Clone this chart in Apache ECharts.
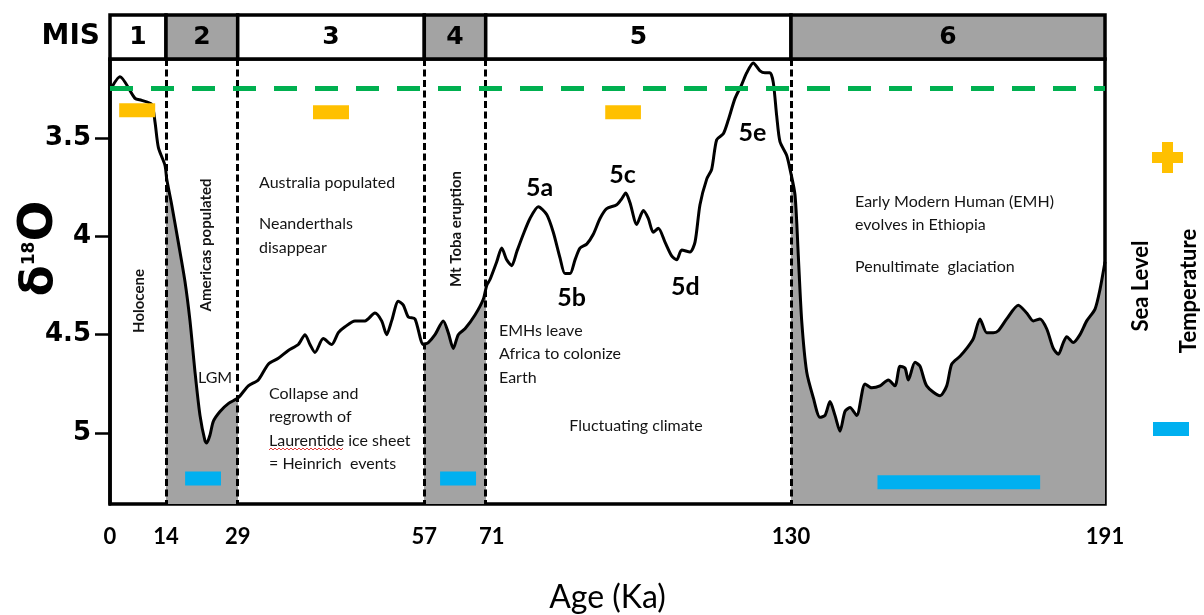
<!DOCTYPE html>
<html>
<head>
<meta charset="utf-8">
<script src="https://cdn.jsdelivr.net/npm/echarts@6/dist/echarts.min.js"></script>
<style>
  html, body { margin: 0; padding: 0; background: #fff; }
  #chart { width: 1204px; height: 615px; }
</style>
</head>
<body>
<div id="chart"></div>
<script>
// Marine isotope stage boundaries (ka) and their labels
const stageBounds = [0, 14, 29, 57, 71, 130, 191];
const stageLabels = ['1', '2', '3', '4', '5', '6'];
const glacialStage = [false, true, false, true, false, true];

// Benthic δ18O record (‰) against age (ka)
const ages = [
  0, 2.5, 6.25, 7.9, 10.4, 11.25, 12.1, 13.75,
  14.15, 15.19, 16.57, 17.97, 19.02, 20.07, 21.11, 22.16, 22.51, 23.2, 23.9, 25.3, 27.03,
  29.09, 30.59, 32.09, 33.59, 35.09, 36.59, 38.09, 39.1, 39.85, 40.6, 41.84, 43.1, 44.1, 45.1,
  46.6, 48.1, 49.6, 50.6, 51.35, 52.1, 53.1, 53.85, 54.6, 55.6, 56.85,
  57.91, 59.44, 61.33, 62.47, 63.61, 64.75, 66.28, 68.56, 70.45,
  71.19, 71.83, 73.13, 74.09, 75.06, 76.02, 76.99, 78.27, 79.56, 81.17, 82.79, 84.06, 85.36,
  86.32, 87.29, 88.26, 89.22, 90.52, 91.79, 93.09, 94.38, 96.32, 97.28, 98.06, 98.89, 100.18,
  101.46, 102.42, 103.39, 104.36, 105.65, 106.94, 107.91, 108.88, 110.48, 111.45, 112.41,
  113.71, 114.67, 115.64, 116.92, 117.88, 119.18, 120.47, 121.44, 122.71, 124.01, 124.97,
  125.94, 126.58, 127.24, 127.87, 129.17, 129.81,
  130.78, 131.42, 132.08, 133.05, 134.33, 135.63, 136.61, 137.58, 138.55, 139.52, 140.49,
  141.46, 142.76, 144.38, 145.68, 147.29, 148.9, 150.2, 151.18, 152.15, 152.79, 154.09,
  155.06, 156.36, 158.95, 160.25, 161.22, 162.83, 164.13, 165.42, 166.72, 168.02, 169.3,
  170.27, 171.9, 174.16, 175.79, 177.07, 178.37, 179.67, 180.96, 181.93, 182.9, 183.56,
  184.84, 186.14, 187.45, 189.06, 190.03, 191
];
const d18o = [
  3.26, 3.19, 3.30, 3.31, 3.33, 3.42, 3.55, 3.64,
  3.71, 3.84, 4.03, 4.23, 4.43, 4.69, 4.91, 5.04, 5.05, 5.01, 4.94, 4.89, 4.85,
  4.82, 4.76, 4.73, 4.65, 4.62, 4.58, 4.55, 4.50, 4.55, 4.59, 4.52, 4.55, 4.49, 4.46,
  4.43, 4.43, 4.39, 4.43, 4.50, 4.43, 4.33, 4.35, 4.41, 4.42, 4.55,
  4.54, 4.50, 4.43, 4.49, 4.57, 4.50, 4.47, 4.40, 4.32,
  4.25, 4.22, 4.13, 4.06, 4.12, 4.15, 4.08, 3.99, 3.91, 3.85, 3.89, 3.98, 4.11,
  4.19, 4.19, 4.12, 4.06, 4.04, 3.99, 3.91, 3.86, 3.84, 3.81, 3.78, 3.83, 3.94,
  3.87, 3.91, 3.98, 3.96, 4.03, 4.10, 4.12, 4.07, 4.08, 4.03, 3.84,
  3.71, 3.66, 3.51, 3.48, 3.41, 3.30, 3.23, 3.17, 3.12, 3.16, 3.17,
  3.17, 3.22, 3.39, 3.52, 3.59, 3.66,
  3.79, 4.10, 4.43, 4.69, 4.82, 4.92, 4.91, 4.84, 4.91, 4.99, 4.89,
  4.87, 4.91, 4.75, 4.77, 4.76, 4.73, 4.76, 4.66, 4.67, 4.73, 4.64,
  4.66, 4.76, 4.81, 4.76, 4.65, 4.61, 4.57, 4.52, 4.42, 4.49, 4.49,
  4.48, 4.42, 4.35, 4.39, 4.43, 4.42, 4.47, 4.57, 4.60, 4.54, 4.51,
  4.54, 4.50, 4.43, 4.37, 4.27, 4.13
];

// Indicator bars: [start ka, end ka, δ18O level]
const temperatureBars = [[2.3, 11.3, 3.36], [40.3, 45.7, 3.37], [94.1, 101.0, 3.37]];
const seaLevelBars = [[18.0, 25.5, 5.23], [60.6, 68.8, 5.23], [146.8, 178.4, 5.25]];

// Present-day reference level (‰)
const referenceLevel = 3.25;

// δ18O tick labels
const yTicks = [3.5, 4, 4.5, 5];

// ---- layout ----
// Horizontal room given to each stage along the age axis
const stageSpan = [56, 71.7, 186.6, 61.4, 305.3, 314];
const spanStart = [0];
stageSpan.forEach((w, i) => spanStart.push(spanStart[i] + w));
const AXIS_END = spanStart[spanStart.length - 1];

function toAxis(age) {
  let i = 0;
  while (i < stageSpan.length - 1 && age > stageBounds[i + 1]) i++;
  return spanStart[i] + (age - stageBounds[i]) / (stageBounds[i + 1] - stageBounds[i]) * stageSpan[i];
}
const tickPos = stageBounds.map(toAxis);

const GRAY = '#a3a3a3';
const ORANGE = '#ffc000';
const BLUE = '#00b0f0';
const GREEN = '#00b050';
const INK = '#141414';
const SANS = 'Lato, "Open Sans", sans-serif';
const HEAVY = '"DejaVu Sans", Verdana, sans-serif';

const curve = ages.map((a, i) => [toAxis(a), d18o[i]]);

const glacialPieces = [];
stageLabels.forEach((s, i) => {
  if (glacialStage[i]) {
    const piece = { gte: toAxis(stageBounds[i]), color: GRAY };
    if (i === stageLabels.length - 1) piece.lte = toAxis(stageBounds[i + 1]);
    else piece.lt = toAxis(stageBounds[i + 1]);
    glacialPieces.push(piece);
  }
});

function barRenderer(color) {
  return function (params, api) {
    const p0 = api.coord([api.value(0), api.value(2)]);
    const p1 = api.coord([api.value(1), api.value(2)]);
    return {
      type: 'rect',
      shape: { x: p0[0], y: p0[1] - 7, width: p1[0] - p0[0], height: 14 },
      style: { fill: color }
    };
  };
}

function text(str, x, y, opt) {
  opt = opt || {};
  return {
    type: 'text',
    x: x, y: y,
    rotation: opt.rotate ? Math.PI / 2 : 0,
    z: 100,
    silent: true,
    style: {
      text: str,
      fill: opt.color || INK,
      font: (opt.weight || 'normal') + ' ' + (opt.size || 16) + 'px ' + (opt.family || SANS),
      textAlign: opt.align || 'left',
      textVerticalAlign: 'middle'
    }
  };
}

// Wavy underline beneath a word
function squiggle(x0, x1, y) {
  const pts = [];
  for (let x = x0, k = 0; x <= x1; x += 2, k++) pts.push([x, y + (k % 2 ? -1 : 1)]);
  return { type: 'polyline', z: 100, silent: true, shape: { points: pts }, style: { stroke: '#e23b3b', lineWidth: 1, fill: null } };
}

const annotations = [
  text('MIS', 100, 37, { weight: 'bold', size: 28, family: HEAVY, align: 'right', color: '#000' }),
  text('Holocene', 139, 301, { rotate: true, weight: 'bold', size: 15, align: 'center' }),
  text('Americas populated', 206, 245, { rotate: true, weight: 'bold', size: 15, align: 'center' }),
  text('Mt Toba eruption', 456, 229, { rotate: true, weight: 'bold', size: 15, align: 'center' }),
  text('Australia populated', 259, 183),
  text('Neanderthals', 259, 224),
  text('disappear', 259, 247.7),
  text('LGM', 198, 378),
  text('Collapse and', 269, 394),
  text('regrowth of', 269, 417),
  text('Laurentide ice sheet', 269, 440.7),
  text('= Heinrich  events', 269, 464),
  squiggle(269, 343, 449),
  text('EMHs leave', 499, 331),
  text('Africa to colonize', 499, 354.3),
  text('Earth', 499, 377.7),
  text('Fluctuating climate', 636, 426, { align: 'center' }),
  text('Early Modern Human (EMH)', 855, 201.7),
  text('evolves in Ethiopia', 855, 225),
  text('Penultimate  glaciation', 855, 267.3),
  text('5a', 539.5, 188.3, { weight: 'bold', size: 25, align: 'center', color: '#000' }),
  text('5b', 571.7, 297.7, { weight: 'bold', size: 25, align: 'center', color: '#000' }),
  text('5c', 622.5, 175, { weight: 'bold', size: 25, align: 'center', color: '#000' }),
  text('5d', 685.3, 287.3, { weight: 'bold', size: 25, align: 'center', color: '#000' }),
  text('5e', 752.5, 133.3, { weight: 'bold', size: 25, align: 'center', color: '#000' }),
  // key on the right
  text('Sea Level', 1141, 286, { rotate: true, weight: 'bold', size: 22, align: 'center', color: '#000' }),
  text('Temperature', 1189, 291, { rotate: true, weight: 'bold', size: 22, align: 'center', color: '#000' }),
  { type: 'rect', z: 100, shape: { x: 1152, y: 152, width: 31, height: 11 }, style: { fill: ORANGE } },
  { type: 'rect', z: 100, shape: { x: 1162, y: 142, width: 11, height: 31 }, style: { fill: ORANGE } },
  { type: 'rect', z: 100, shape: { x: 1153, y: 422, width: 36, height: 14 }, style: { fill: BLUE } }
];

const chart = echarts.init(document.getElementById('chart'), null, { renderer: 'canvas' });

chart.setOption({
  animation: false,
  backgroundColor: '#fff',
  grid: [
    { left: 110, top: 59, width: AXIS_END, height: 445, show: true, borderColor: '#000', borderWidth: 3.5,
      backgroundColor: '#fff', containLabel: false, outerBoundsMode: 'none' },
    { left: 110, top: 15, width: AXIS_END, height: 44, show: false, containLabel: false, outerBoundsMode: 'none' }
  ],
  xAxis: [
    {
      type: 'value', gridIndex: 0, min: 0, max: AXIS_END,
      axisLine: { show: false }, axisTick: { show: false }, splitLine: { show: false },
      axisLabel: {
        customValues: tickPos,
        formatter: function (v) {
          const k = tickPos.findIndex(p => Math.abs(p - v) < 1e-3);
          if (k < 0) return '';
          return stageBounds[k] === 71 ? '{r|71}' : String(stageBounds[k]);
        },
        fontFamily: SANS, fontWeight: 'bold', fontSize: 22, color: '#000', margin: 22,
        rich: { r: { fontFamily: SANS, fontWeight: 'bold', fontSize: 22, color: '#000', padding: [0, 0, 0, 12] } }
      },
      name: 'Age (Ka)', nameLocation: 'middle', nameGap: 78, nameMoveOverlap: false,
      nameTextStyle: { fontFamily: SANS, fontSize: 32, color: '#000' }
    },
    { type: 'value', gridIndex: 1, min: 0, max: AXIS_END, show: false }
  ],
  yAxis: [
    {
      type: 'value', gridIndex: 0, inverse: true, min: 3.1, max: 5.36,
      axisLine: { show: true, lineStyle: { color: '#000', width: 3.5 } },
      axisTick: { show: true, customValues: yTicks, length: 15, lineStyle: { color: '#000', width: 2.5 } },
      axisLabel: {
        customValues: yTicks, margin: 19,
        fontFamily: HEAVY, fontWeight: 'bold', fontSize: 26, color: '#000'
      },
      splitLine: { show: false },
      name: '{d|δ}{s|18}{o|O}', nameLocation: 'middle', nameRotate: 90, nameGap: 46, nameMoveOverlap: false,
      nameTextStyle: {
        color: '#000',
        rich: {
          d: { fontFamily: HEAVY, fontWeight: 'bold', fontSize: 45, color: '#000', padding: [0, 0, 0, 66] },
          s: { fontFamily: HEAVY, fontWeight: 'bold', fontSize: 17, color: '#000', padding: [0, 0, 20, 0] },
          o: { fontFamily: HEAVY, fontWeight: 'bold', fontSize: 48, color: '#000' }
        }
      }
    },
    { type: 'value', gridIndex: 1, min: 0, max: 1, show: false }
  ],
  visualMap: {
    type: 'piecewise', show: false, seriesIndex: 0, dimension: 0,
    pieces: glacialPieces,
    outOfRange: { color: 'rgba(163,163,163,0)' }
  },
  series: [
    {
      // glacial fill beneath the record
      type: 'line', xAxisIndex: 0, yAxisIndex: 0, data: curve,
      smooth: 0.25, symbol: 'none', silent: true, z: 1,
      lineStyle: { width: 0 },
      areaStyle: { opacity: 1, origin: 'end' }
    },
    {
      type: 'line', xAxisIndex: 0, yAxisIndex: 0, data: curve,
      smooth: 0.25, symbol: 'none', silent: true, z: 4,
      lineStyle: { color: '#000', width: 3 },
      markLine: {
        silent: true, symbol: ['none', 'none'], label: { show: false },
        data: stageBounds.slice(1, -1).map(b => ({
          xAxis: toAxis(b),
          lineStyle: { color: '#000', width: 3, type: [7, 3.5] }
        })).concat([{
          yAxis: referenceLevel,
          lineStyle: { color: GREEN, width: 5, type: [23, 18] }
        }])
      }
    },
    {
      type: 'custom', xAxisIndex: 0, yAxisIndex: 0, z: 5, silent: true,
      data: temperatureBars.map(b => [toAxis(b[0]), toAxis(b[1]), b[2]]),
      encode: { x: [0, 1], y: 2 },
      renderItem: barRenderer(ORANGE)
    },
    {
      type: 'custom', xAxisIndex: 0, yAxisIndex: 0, z: 5, silent: true,
      data: seaLevelBars.map(b => [toAxis(b[0]), toAxis(b[1]), b[2]]),
      encode: { x: [0, 1], y: 2 },
      renderItem: barRenderer(BLUE)
    },
    {
      // stage header cells
      type: 'custom', xAxisIndex: 1, yAxisIndex: 1, z: 6, silent: true, clip: false,
      data: stageLabels.map((s, i) => [toAxis(stageBounds[i]), toAxis(stageBounds[i + 1])]),
      encode: { x: [0, 1] },
      renderItem: function (params, api) {
        const a = api.coord([api.value(0), 1]);
        const b = api.coord([api.value(1), 0]);
        const i = params.dataIndex;
        return {
          type: 'rect',
          shape: { x: a[0], y: a[1], width: b[0] - a[0], height: b[1] - a[1] },
          style: { fill: glacialStage[i] ? GRAY : '#fff', stroke: '#000', lineWidth: 3.5 },
          textContent: {
            style: { text: stageLabels[i], font: 'bold 25px ' + HEAVY, fill: '#000' }
          },
          textConfig: { position: 'inside' }
        };
      }
    }
  ],
  graphic: annotations
});
</script>
</body>
</html>
